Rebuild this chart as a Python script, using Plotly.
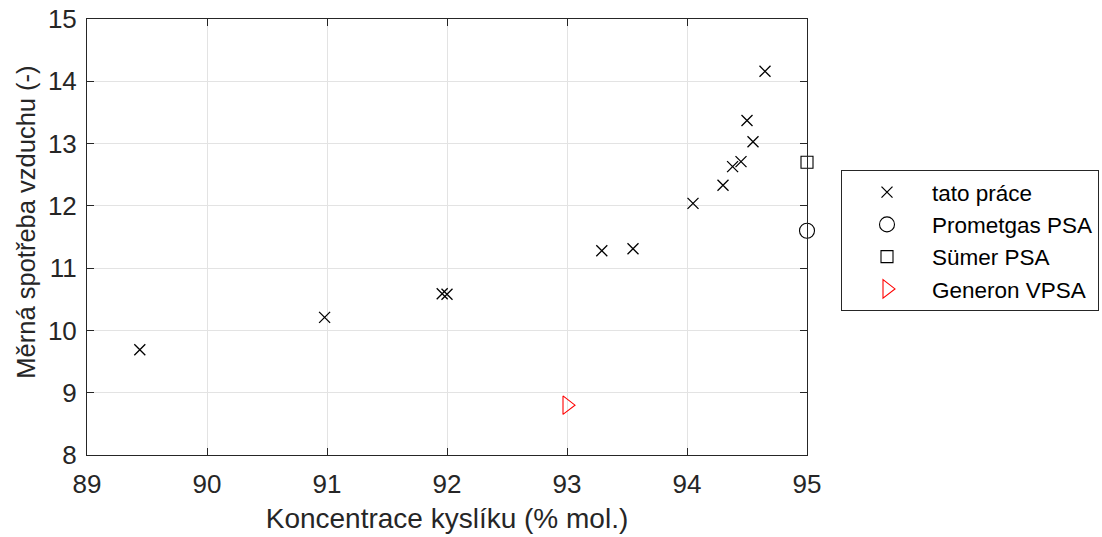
import plotly.graph_objects as go

# Oxygen concentration (% mol.) vs. specific air consumption (-)
tato_x = [89.44, 90.98, 91.96, 92.0, 93.29, 93.55, 94.05, 94.30, 94.38, 94.45, 94.50, 94.55, 94.65]
tato_y = [9.69, 10.21, 10.59, 10.58, 11.28, 11.31, 12.04, 12.33, 12.63, 12.71, 13.37, 13.03, 14.16]

prometgas_x = [95.0]
prometgas_y = [11.6]

sumer_x = [95.0]
sumer_y = [12.7]

generon_x = [93.0]
generon_y = [8.8]

x_ticks = [89, 90, 91, 92, 93, 94, 95]
y_ticks = [8, 9, 10, 11, 12, 13, 14, 15]

FONT = "Liberation Sans, Arial, sans-serif"
INK = "#262626"

fig = go.Figure()
fig.add_trace(go.Scatter(
    x=tato_x, y=tato_y, mode="markers", name="tato práce",
    marker=dict(symbol="x-thin", size=11, line=dict(color="black", width=1.3), color="black"),
    cliponaxis=False,
))
fig.add_trace(go.Scatter(
    x=prometgas_x, y=prometgas_y, mode="markers", name="Prometgas PSA",
    marker=dict(symbol="circle-open", size=15, line=dict(color="black", width=1.1), color="black"),
    cliponaxis=False,
))
fig.add_trace(go.Scatter(
    x=sumer_x, y=sumer_y, mode="markers", name="Sümer PSA",
    marker=dict(symbol="square-open", size=12, line=dict(color="black", width=1.1), color="black"),
    cliponaxis=False,
))
fig.add_trace(go.Scatter(
    x=generon_x, y=generon_y, mode="markers", name="Generon VPSA",
    marker=dict(symbol="triangle-right-open", size=16, line=dict(color="red", width=1.1), color="red"),
    cliponaxis=False,
))

axis_common = dict(
    showline=True, linecolor=INK, linewidth=1, mirror="ticks",
    ticks="inside", ticklen=7, tickcolor=INK, tickwidth=1,
    showgrid=True, gridcolor="#e3e3e3", gridwidth=1,
    zeroline=False, automargin=False,
    tickfont=dict(family=FONT, size=26, color=INK),
)

fig.update_xaxes(
    range=[89, 95], tickvals=x_ticks, ticktext=[str(v) for v in x_ticks],
    ticklabelstandoff=6,
    title=dict(text="Koncentrace kyslíku (% mol.)", font=dict(family=FONT, size=28, color=INK), standoff=10),
    **axis_common,
)
fig.update_yaxes(
    range=[8, 15], tickvals=y_ticks, ticktext=[str(v) for v in y_ticks],
    ticklabelstandoff=4,
    **axis_common,
)

# y-axis label placed as a rotated annotation
fig.add_annotation(
    text="Měrná spotřeba vzduchu (-)", textangle=-90,
    xref="paper", yref="paper", x=-0.0847, y=0.533,
    xanchor="center", yanchor="middle", showarrow=False,
    font=dict(family=FONT, size=25.5, color=INK),
)

fig.update_layout(
    width=1102, height=537,
    margin=dict(l=87, r=295, t=19, b=82, autoexpand=False),
    paper_bgcolor="white", plot_bgcolor="white",
    font=dict(family=FONT, color=INK),
    legend=dict(
        xref="container", yref="container",
        x=841 / 1102, y=1 - 170 / 537, xanchor="left", yanchor="top",
        bordercolor=INK, borderwidth=1, bgcolor="white",
        font=dict(family=FONT, size=22.5, color="black"),
        itemwidth=80, tracegroupgap=0,
    ),
    showlegend=True,
)

fig.write_html("out.html")
